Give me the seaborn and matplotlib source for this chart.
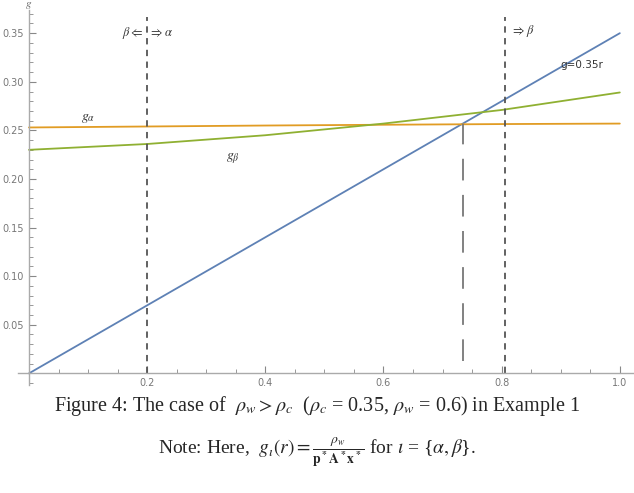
import matplotlib
matplotlib.use("Agg")
import matplotlib.pyplot as plt
from matplotlib.ticker import MultipleLocator
import seaborn as sns

# values
r = [0.0, 0.2, 0.4, 0.6, 0.8, 1.0]
g_line = [0.0, 0.07, 0.14, 0.21, 0.28, 0.35]
g_alpha = [0.253, 0.254, 0.255, 0.2558, 0.2565, 0.257]
g_beta = [0.230, 0.236, 0.245, 0.257, 0.271, 0.289]
r_switch = [0.2, 0.806]
r_cross = 0.735
g_cross = 0.257

sns.set_theme(style="white", rc={"mathtext.fontset": "stix"})

fig = plt.figure(figsize=(6.34, 4.93), dpi=100)
ax = fig.add_axes([0.028, 0.219, 0.972, 0.761])

sns.lineplot(x=r, y=g_line, ax=ax, color="#5E81B5", lw=1.3)
sns.lineplot(x=r, y=g_alpha, ax=ax, color="#E19C24", lw=1.3)
sns.lineplot(x=r, y=g_beta, ax=ax, color="#8FB032", lw=1.3)

for xv in r_switch:
    ax.plot([xv, xv], [0, 0.367], color="#555555", lw=1.3, ls=(0, (3.5, 3)))
ax.plot([r_cross, r_cross], [0.013, g_cross], color="#777777", lw=1.3, ls=(0, (12, 8)))

ax.set_xlim(-0.019, 1.024)
ax.set_ylim(-0.012, 0.374)

for s in ["top", "right"]:
    ax.spines[s].set_visible(False)
ax.spines["left"].set_position(("data", 0))
ax.spines["bottom"].set_position(("data", 0))
for s in ["left", "bottom"]:
    ax.spines[s].set_color("#aaaaaa")
    ax.spines[s].set_linewidth(1.0)

ax.xaxis.set_major_locator(MultipleLocator(0.2))
ax.xaxis.set_minor_locator(MultipleLocator(0.05))
ax.yaxis.set_major_locator(MultipleLocator(0.05))
ax.yaxis.set_minor_locator(MultipleLocator(0.01))
ax.tick_params(which="both", direction="in", colors="#888888", labelsize=7,
               bottom=True, left=True)
ax.tick_params(which="major", length=5, width=0.8)
ax.tick_params(which="minor", length=3, width=0.6)
ax.set_xticks([0.2, 0.4, 0.6, 0.8, 1.0])
ax.set_xticklabels(["0.2", "0.4", "0.6", "0.8", "1.0"], color="#777777")
ax.set_yticks([0.05, 0.10, 0.15, 0.20, 0.25, 0.30, 0.35])
ax.set_yticklabels(["0.05", "0.10", "0.15", "0.20", "0.25", "0.30", "0.35"], color="#777777")
ax.tick_params(axis="x", pad=3)

ax.text(0.0, 0.378, "$g$", fontsize=8, color="#666666", ha="center", va="center")
ax.text(0.2, 0.35, r"$\beta \Leftarrow\;\;\Rightarrow \alpha$", fontsize=9,
        ha="center", va="center", color="#333333")
ax.text(0.815, 0.352, r"$\Rightarrow \beta$", fontsize=9, ha="left", va="center",
        color="#333333")
ax.text(0.935, 0.317, "g=0.35r", fontsize=7.5, ha="center", va="center",
        color="#333333")
ax.text(0.1, 0.263, r"$g_\alpha$", fontsize=10, ha="center", va="center",
        color="#333333")
ax.text(0.345, 0.221, r"$g_\beta$", fontsize=10, ha="center", va="center",
        color="#333333")

fig.text(0.5, 1 - 406 / 493,
         r"Figure 4: The case of  $\rho_w > \rho_c$  ($\rho_c$ = 0.35, $\rho_w$ = 0.6) in Example 1",
         ha="center", va="center", fontsize=14.5, family="Liberation Serif")
fig.text(0.5, 1 - 452 / 493,
         r"Note: Here,  $g_\iota(r) = \frac{\rho_w}{\mathbf{p^* A^* x^*}}$ for $\iota$ = {$\alpha, \beta$}.",
         ha="center", va="center", fontsize=14, family="Liberation Serif")

fig.savefig("out.png", dpi=100)
